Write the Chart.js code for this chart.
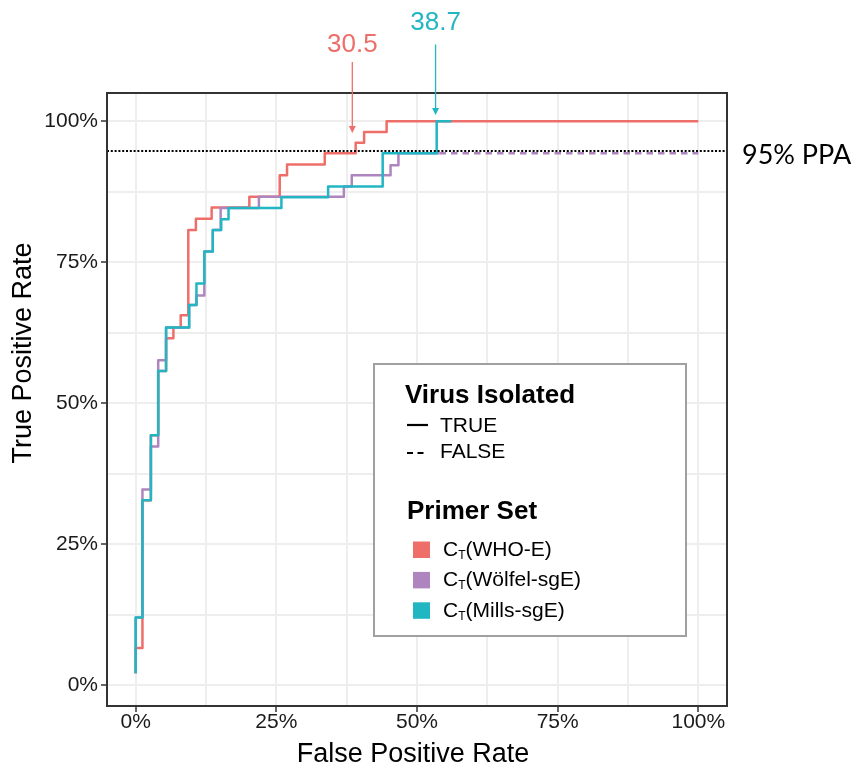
<!DOCTYPE html>
<html>
<head>
<meta charset="utf-8">
<title>ROC by primer set</title>
<script src="https://cdn.jsdelivr.net/npm/chart.js@4.4.1/dist/chart.umd.min.js"></script>
<style>
  html, body { margin: 0; padding: 0; background: #ffffff; }
  canvas { display: block; }
</style>
</head>
<body>
<canvas id="roc" width="858" height="769"></canvas>
<script>
// ROC steps for each primer set: (false positive rate, true positive rate) at each Ct cut-off
const fprWhoE = [0, 0, 0.012, 0.027, 0.040, 0.054, 0.067, 0.080, 0.0935, 0.107, 0.135, 0.202, 0.256, 0.269, 0.336, 0.391, 0.406, 0.446, 1.0];
const tprWhoE = [0.021, 0.066, 0.328, 0.443, 0.557, 0.615, 0.634, 0.656, 0.807, 0.827, 0.847, 0.866, 0.904, 0.923, 0.943, 0.962, 0.981, 1.0, 1.0];

const fprWolfel = [0, 0, 0.012, 0.027, 0.040, 0.054, 0.095, 0.108, 0.122, 0.137, 0.151, 0.219, 0.370, 0.384, 0.453, 0.467, 0.540];
const tprWolfel = [0.021, 0.120, 0.347, 0.423, 0.576, 0.634, 0.674, 0.691, 0.769, 0.807, 0.846, 0.866, 0.884, 0.904, 0.922, 0.943, 0.943];
// part of the Wölfel-sgE curve past the last isolated virus
const fprWolfelFalse = [0.540, 1.0];
const tprWolfelFalse = [0.943, 0.943];

const fprMills = [0, 0, 0.012, 0.027, 0.040, 0.054, 0.095, 0.108, 0.122, 0.137, 0.152, 0.165, 0.259, 0.342, 0.439, 0.535, 0.561];
const tprMills = [0.021, 0.120, 0.328, 0.443, 0.557, 0.634, 0.674, 0.712, 0.769, 0.807, 0.826, 0.846, 0.865, 0.884, 0.943, 1.0, 1.0];

// axis ticks (major every 25 %, minor grid in between)
const axisTicks = [0, 0.125, 0.25, 0.375, 0.5, 0.625, 0.75, 0.875, 1];

// positive percent agreement reference
const ppaLevel = 0.947;
const ppaLabel = '95% PPA';

// Ct cut-offs called out above the curves
const cutoffLabels = ['30.5', '38.7'];
const cutoffFpr = [0.385, 0.533];
const cutoffArrowFrom = [1.105, 1.136];
const cutoffArrowTo = [0.979, 1.011];
const cutoffTextAt = [1.135, 1.174];

// legend entries
const primerNames = ['(WHO-E)', '(Wölfel-sgE)', '(Mills-sgE)'];
const isolatedNames = ['TRUE', 'FALSE'];

const RED = '#EE6E69';
const PURPLE = '#AE85BF';
const TEAL = '#22B6C3';
const primerColors = [RED, PURPLE, TEAL];
const cutoffColors = [RED, TEAL];

const SANS = '"Liberation Sans", Arial, Helvetica, sans-serif';

const toPoints = (xs, ys) => xs.map((x, i) => ({ x: x, y: ys[i] }));
const isMajor = v => Math.abs(v * 4 - Math.round(v * 4)) < 1e-6;

const stepLine = {
  stepped: 'before',
  pointRadius: 0,
  pointHoverRadius: 0,
  borderWidth: 2.5,
  borderJoinStyle: 'round',
  borderCapStyle: 'butt',
  fill: false
};

const decor = {
  id: 'decor',
  afterDatasetsDraw(chart) {
    const { ctx, chartArea: a, scales: { x, y } } = chart;
    ctx.save();

    // dotted PPA line across the panel
    const yp = y.getPixelForValue(ppaLevel);
    ctx.strokeStyle = '#000';
    ctx.lineWidth = 2;
    ctx.setLineDash([2, 1.8]);
    ctx.beginPath();
    ctx.moveTo(a.left, yp);
    ctx.lineTo(a.right, yp);
    ctx.stroke();
    ctx.setLineDash([]);
    ctx.fillStyle = '#000';
    ctx.font = '27px Lato, "Open Sans", sans-serif';
    ctx.textAlign = 'left';
    ctx.textBaseline = 'middle';
    ctx.fillText(ppaLabel, a.right + 15, yp + 4);

    // panel border
    ctx.strokeStyle = '#333';
    ctx.lineWidth = 2;
    ctx.strokeRect(a.left, a.top, a.right - a.left, a.bottom - a.top);

    // cut-off arrows and labels
    cutoffLabels.forEach((txt, i) => {
      const px = x.getPixelForValue(cutoffFpr[i]);
      const y0 = y.getPixelForValue(cutoffArrowFrom[i]);
      const y1 = y.getPixelForValue(cutoffArrowTo[i]);
      ctx.strokeStyle = cutoffColors[i];
      ctx.fillStyle = cutoffColors[i];
      ctx.lineWidth = 1.3;
      ctx.beginPath();
      ctx.moveTo(px, y0);
      ctx.lineTo(px, y1 - 4);
      ctx.stroke();
      ctx.beginPath();
      ctx.moveTo(px, y1);
      ctx.lineTo(px - 3.5, y1 - 7);
      ctx.lineTo(px + 3.5, y1 - 7);
      ctx.closePath();
      ctx.fill();
      ctx.font = '26px ' + SANS;
      ctx.textAlign = 'center';
      ctx.textBaseline = 'middle';
      ctx.fillText(txt, px, y.getPixelForValue(cutoffTextAt[i]));
    });

    // axis titles
    ctx.fillStyle = '#000';
    ctx.font = '27px ' + SANS;
    ctx.textAlign = 'center';
    ctx.textBaseline = 'middle';
    ctx.fillText('False Positive Rate', 413, 755);
    ctx.save();
    ctx.translate(24, 353);
    ctx.rotate(-Math.PI / 2);
    ctx.fillText('True Positive Rate', 0, 0);
    ctx.restore();

    // legend
    const lx = 374, ly = 364;
    ctx.fillStyle = '#fff';
    ctx.fillRect(lx, ly, 312, 272);
    ctx.strokeStyle = '#A0A0A0';
    ctx.lineWidth = 2;
    ctx.strokeRect(lx, ly, 312, 272);

    ctx.fillStyle = '#000';
    ctx.textAlign = 'left';
    ctx.textBaseline = 'alphabetic';
    ctx.font = 'bold 26px ' + SANS;
    ctx.fillText('Virus Isolated', lx + 31, ly + 39);

    ctx.strokeStyle = '#000';
    ctx.lineWidth = 2.2;
    ctx.beginPath();
    ctx.moveTo(lx + 33, ly + 61);
    ctx.lineTo(lx + 54, ly + 61);
    ctx.stroke();
    ctx.setLineDash([6, 4.5]);
    ctx.beginPath();
    ctx.moveTo(lx + 33, ly + 89);
    ctx.lineTo(lx + 50, ly + 89);
    ctx.stroke();
    ctx.setLineDash([]);
    ctx.font = '21px ' + SANS;
    ctx.fillText(isolatedNames[0], lx + 66, ly + 68);
    ctx.fillText(isolatedNames[1], lx + 66, ly + 94);

    ctx.font = 'bold 26px ' + SANS;
    ctx.fillText('Primer Set', lx + 33, ly + 155);

    primerNames.forEach((name, i) => {
      const rowY = ly + 192 + i * 30.4;
      ctx.fillStyle = primerColors[i];
      ctx.fillRect(lx + 39, rowY - 14.5, 17, 16.5);
      ctx.fillStyle = '#000';
      let tx = lx + 69;
      ctx.font = '21px ' + SANS;
      ctx.fillText('C', tx, rowY);
      tx += ctx.measureText('C').width;
      ctx.font = '12px ' + SANS;
      ctx.fillText('T', tx, rowY + 3);
      tx += ctx.measureText('T').width;
      ctx.font = '21px ' + SANS;
      ctx.fillText(name, tx, rowY);
    });

    ctx.restore();
  }
};

const axisTickOptions = {
  callback: v => (isMajor(v) ? Math.round(v * 100) + '%' : ''),
  font: { family: SANS, size: 21 },
  color: '#1a1a1a',
  autoSkip: false,
  maxRotation: 0
};

const gridOptions = {
  color: '#EEEEEE',
  lineWidth: 2,
  drawTicks: true,
  tickLength: 6,
  tickWidth: 1.5,
  tickColor: c => (c.tick && isMajor(c.tick.value) ? '#333333' : 'rgba(0,0,0,0)')
};

new Chart(document.getElementById('roc'), {
  type: 'line',
  data: {
    datasets: [
      Object.assign({ label: 'CT(WHO-E)', data: toPoints(fprWhoE, tprWhoE), borderColor: RED, order: 3 }, stepLine),
      Object.assign({ label: 'CT(Wölfel-sgE)', data: toPoints(fprWolfel, tprWolfel), borderColor: PURPLE, order: 2 }, stepLine),
      Object.assign({ label: 'CT(Wölfel-sgE) not isolated', data: toPoints(fprWolfelFalse, tprWolfelFalse), borderColor: PURPLE, borderDash: [6.5, 5], order: 2 }, stepLine),
      Object.assign({ label: 'CT(Mills-sgE)', data: toPoints(fprMills, tprMills), borderColor: TEAL, order: 1 }, stepLine)
    ]
  },
  options: {
    responsive: false,
    animation: false,
    events: [],
    layout: { padding: { left: 0, right: 131, top: 93, bottom: 0 } },
    plugins: { legend: { display: false }, tooltip: { enabled: false }, title: { display: false } },
    scales: {
      x: {
        type: 'linear',
        min: -0.051,
        max: 1.051,
        afterBuildTicks: s => { s.ticks = axisTicks.map(v => ({ value: v })); },
        afterFit: s => { s.height = 63; },
        grid: gridOptions,
        border: { display: false },
        ticks: Object.assign({ padding: -2 }, axisTickOptions)
      },
      y: {
        type: 'linear',
        min: -0.037,
        max: 1.05,
        afterBuildTicks: s => { s.ticks = axisTicks.map(v => ({ value: v })); },
        afterFit: s => { s.width = 107; },
        grid: gridOptions,
        border: { display: false },
        ticks: Object.assign({ padding: 3 }, axisTickOptions)
      }
    }
  },
  plugins: [decor]
});
</script>
</body>
</html>
